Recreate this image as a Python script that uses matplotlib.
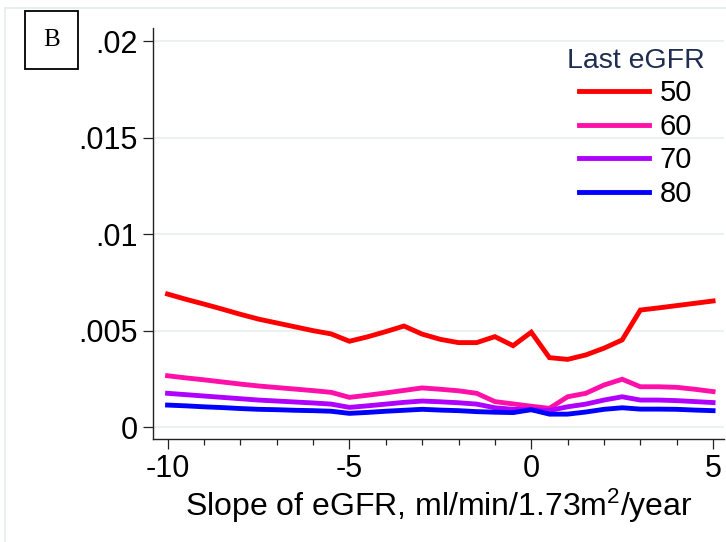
import matplotlib
matplotlib.use("Agg")
import matplotlib.pyplot as plt
from matplotlib.lines import Line2D

plt.rcParams["font.family"] = ["Liberation Sans", "DejaVu Sans"]
plt.rcParams["mathtext.default"] = "regular"
plt.rcParams["axes.unicode_minus"] = False

slope = [-10, -9.5, -9, -8.5, -8, -7.5, -7, -6.5, -6, -5.5, -5, -4.5, -4, -3.5, -3, -2.5,
         -2, -1.5, -1, -0.5, 0, 0.5, 1, 1.5, 2, 2.5, 3, 3.5, 4, 4.5, 5]

# predicted values (x 1000)
egfr50 = [6.9, 6.63, 6.38, 6.12, 5.85, 5.6, 5.4, 5.2, 5.0, 4.83, 4.45, 4.68, 4.95, 5.24, 4.82, 4.55,
          4.38, 4.38, 4.69, 4.22, 4.92, 3.6, 3.51, 3.74, 4.09, 4.52, 6.07, 6.18, 6.3, 6.42, 6.54]
egfr60 = [2.66, 2.55, 2.45, 2.34, 2.23, 2.13, 2.05, 1.97, 1.89, 1.80, 1.54, 1.65, 1.77, 1.9, 2.03, 1.96,
          1.88, 1.75, 1.32, 1.2, 1.08, 0.97, 1.57, 1.75, 2.18, 2.48, 2.09, 2.09, 2.06, 1.96, 1.84]
egfr70 = [1.75, 1.68, 1.61, 1.54, 1.47, 1.40, 1.35, 1.30, 1.25, 1.19, 1.02, 1.1, 1.19, 1.28, 1.35, 1.31,
          1.26, 1.19, 1.0, 0.92, 0.9, 0.86, 1.05, 1.19, 1.40, 1.57, 1.40, 1.40, 1.37, 1.32, 1.27]
egfr80 = [1.14, 1.10, 1.05, 1.01, 0.96, 0.92, 0.90, 0.87, 0.85, 0.82, 0.71, 0.76, 0.82, 0.87, 0.92, 0.88,
          0.85, 0.80, 0.77, 0.75, 0.9, 0.67, 0.67, 0.78, 0.92, 1.0, 0.93, 0.93, 0.92, 0.88, 0.85]

labels = ["50", "60", "70", "80"]
colors = ["#ff0000", "#ff10a8", "#b000ff", "#0000ff"]
yticks = [0, 0.005, 0.01, 0.015, 0.02]
ytick_labels = ["0", ".005", ".01", ".015", ".02"]

fig = plt.figure(figsize=(7.26, 5.42), dpi=100)
ax = fig.add_axes([153 / 726, 103 / 542, 571 / 726, 411 / 542])

series = [egfr50, egfr60, egfr70, egfr80]
for vals, c in zip(series, colors):
    ax.plot(slope, [v / 1000 for v in vals], color=c, lw=3.5, solid_joinstyle="miter")

ax.set_xlim(-10.4, 5.3)
ax.set_ylim(-0.00062, 0.0207)
ax.set_yticks(yticks)
ax.set_yticklabels(ytick_labels)
ax.set_xticks([-10, -5, 0, 5])
ax.set_xticks(range(-10, 6), minor=True)
ax.grid(axis="y", color="#e8eeee", lw=1.2)
ax.set_axisbelow(True)
for s in ["top", "right"]:
    ax.spines[s].set_visible(False)
for s in ["left", "bottom"]:
    ax.spines[s].set_color("#222222")
    ax.spines[s].set_linewidth(1.0)
ax.tick_params(axis="both", which="major", labelsize=22, length=7, width=0.9, color="#222222", pad=4)
ax.tick_params(axis="x", which="minor", length=4, width=0.9, color="#222222")
ax.set_xlabel("Slope of eGFR, ml/min/1.73m$^2$/year", fontsize=23, labelpad=2)

handles = [Line2D([0], [0], color=c, lw=3.5) for c in colors]
leg = fig.legend(handles, labels, title="Last eGFR", loc="upper right",
                 bbox_to_anchor=(716 / 726, 1 - 36 / 542),
                 frameon=False, fontsize=21, title_fontsize=20.5, handlelength=2.4, handletextpad=0.35,
                 labelspacing=0.19, borderaxespad=0.0)
leg.get_title().set_color("#1e2d50")

fig.text(51.5 / 726, 1 - 40 / 542, "B", family="Liberation Serif", fontsize=18, ha="center", va="center",
         bbox=dict(boxstyle="square,pad=0.72", fc="white", ec="black", lw=1.3))

fig.add_artist(Line2D([5 / 726, 1], [1 - 8 / 542, 1 - 8 / 542], color="#e6eded", lw=1.2))
fig.add_artist(Line2D([5 / 726, 5 / 726], [0, 1 - 8 / 542], color="#e6eded", lw=1.2))

fig.savefig("out.png", dpi=100)
